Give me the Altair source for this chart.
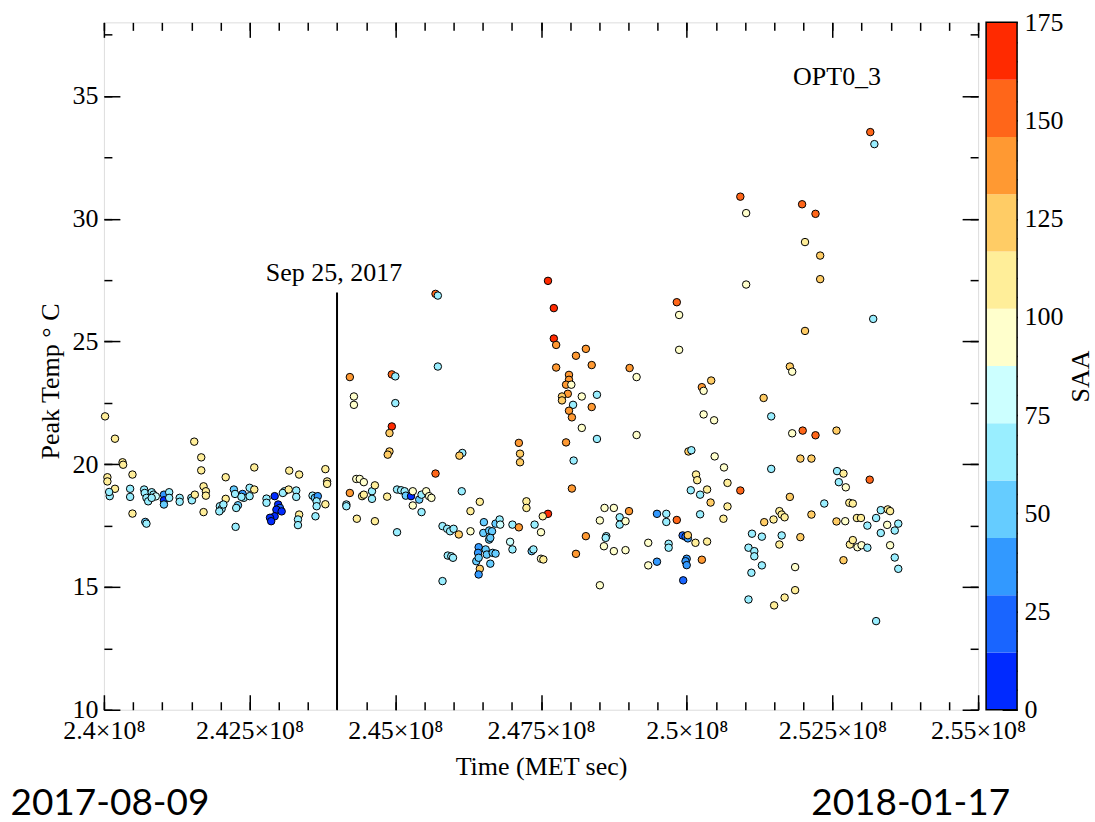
import altair as alt
import pandas as pd

# ---------------------------------------------------------------- data
# Mission elapsed time of each peak (units of 1e6 s)
met_e6 = [
    240.02, 240.19, 240.32, 240.33, 240.06, 240.06, 240.19, 240.10, 240.09, 240.49,
    240.45, 240.45, 240.49, 240.69, 240.70, 240.73, 240.76, 240.82, 240.85, 240.89,
    240.82, 240.71, 240.73, 241.03, 241.03, 241.03, 241.12, 241.12, 241.30, 241.30,
    241.50, 241.51, 241.55, 241.67, 241.67, 241.71, 241.75, 241.75, 241.56, 241.71,
    242.09, 242.09, 241.99, 242.02, 241.98, 242.05, 242.23, 242.25, 242.38, 242.40,
    242.36, 242.30, 242.27, 242.26, 242.50, 242.50, 242.58, 242.58, 242.79, 242.79,
    242.93, 242.99, 243.02, 242.96, 243.05, 242.93, 242.85, 242.87, 243.10, 243.07,
    243.17, 243.18, 243.30, 243.30, 243.35, 243.35, 243.33, 243.33, 243.58, 243.62,
    243.67, 243.65, 243.65, 243.63, 243.80, 243.83, 243.83, 243.80,
    244.22, 244.29, 244.29, 244.94, 245.00, 245.00, 244.94, 244.90, 244.90, 244.87,
    245.69, 245.73, 245.73, 246.15, 246.10, 245.69, 244.33, 244.39, 244.46, 244.22,
    244.16, 244.16, 244.43, 244.46, 244.60, 244.60, 244.65, 244.34, 244.65, 244.86,
    245.03, 245.10, 245.16, 245.18, 245.27, 245.30, 245.30, 245.41, 245.45, 245.53,
    245.58, 245.62, 245.45, 245.03, 246.14, 245.81, 245.89, 245.94, 246.00, 246.09,
    246.29, 246.45, 246.29, 245.90, 245.96, 245.99, 245.81, 246.52, 246.72, 246.79,
    246.80, 246.51, 246.61, 246.66, 246.61, 246.63, 246.43, 246.42, 246.55, 246.57,
    246.67, 246.72, 246.39, 246.43, 246.45, 246.43, 246.63, 247.01, 247.12, 246.97,
    247.01, 247.25, 247.25, 247.34, 247.37, 247.39, 247.50, 247.50, 247.54, 247.12,
    247.14, 247.14, 247.62, 247.72, 247.72, 247.76, 247.76, 248.10, 248.27, 248.37,
    247.98, 247.98, 247.93, 247.96, 247.86, 247.86, 248.02, 248.05, 247.98, 248.03,
    248.20, 248.37, 248.20, 248.46, 248.46, 247.93, 248.06, 248.03, 247.62, 247.53,
    248.27, 248.10, 248.51, 248.59, 248.75, 248.51, 248.85, 248.85, 248.95, 248.62,
    248.61, 248.58, 248.75, 248.95, 249.02, 249.01, 249.14, 249.14,
    252.29, 252.29, 251.02, 249.83, 249.87, 249.87, 253.20, 252.03, 251.77, 251.81,
    250.42, 250.26, 250.29, 251.32, 251.45, 250.29, 250.47, 251.81, 251.99, 252.21,
    252.57, 250.03, 250.08, 250.48, 250.64, 250.16, 250.18, 250.70, 250.07, 250.23,
    250.35, 250.92, 250.41, 250.70, 250.23, 250.63, 251.45, 251.77, 251.59, 251.63,
    251.68, 251.49, 251.33, 252.14, 251.95, 251.63, 251.59, 251.12, 251.29, 251.06,
    251.16, 251.16, 251.29, 251.11, 251.86, 251.06, 251.86, 251.68, 251.50, 249.49,
    249.65, 249.65, 249.83, 249.34, 249.34, 249.49, 249.69, 249.69, 249.93, 249.98,
    250.02, 250.02, 250.00, 249.98, 250.00, 249.94, 250.15, 250.35, 250.26, 252.58,
    252.69, 252.61, 252.73, 252.36, 252.57, 252.72, 252.79, 252.85, 252.92, 252.99,
    253.10, 253.25, 253.33, 253.45, 253.49, 253.44, 253.57, 253.63, 253.33, 252.80,
    252.85, 252.93, 253.00, 253.10, 253.49, 252.69, 253.57, 253.63, 253.25, 253.14,
    251.95, 252.14, 250.92, 251.02, 251.98, 252.21, 252.03, 253.15, 253.22,
]

# Peak temperature (deg C)
peak_temp = [
    21.95, 21.04, 20.08, 19.98, 19.47, 19.30, 19.00, 18.70, 18.87, 19.58,
    19.00, 18.67, 17.99, 18.97, 18.83, 18.63, 18.49, 18.86, 18.76, 18.69,
    18.63, 17.65, 17.58, 18.76, 18.53, 18.36, 18.86, 18.63, 18.63, 18.47,
    18.63, 18.53, 20.92, 20.28, 19.75, 19.10, 18.90, 18.72, 18.76, 18.05,
    19.47, 18.59, 18.29, 18.18, 18.08, 18.36, 18.97, 18.79, 18.79, 18.63,
    18.67, 18.33, 18.22, 17.45, 19.04, 18.70, 19.87, 18.97, 18.60, 18.43,
    18.70, 18.36, 18.22, 18.15, 18.08, 17.88, 17.82, 17.68, 18.90, 18.83,
    18.97, 19.74, 18.93, 18.67, 19.58, 17.95, 17.75, 17.52, 18.72, 18.63,
    18.70, 18.49, 18.29, 17.88, 19.80, 19.30, 19.20, 18.37,
    23.55, 22.76, 22.42, 23.66, 23.58, 22.49, 21.54, 21.27, 20.52, 20.39,
    26.94, 26.87, 23.98, 20.46, 20.35, 19.62, 19.40, 19.40, 19.27, 18.83,
    18.36, 18.29, 18.70, 18.76, 18.90, 18.59, 19.14, 17.78, 17.68, 18.68,
    18.97, 18.94, 18.90, 18.72, 18.70, 18.90, 18.32, 18.56, 18.76, 18.90,
    18.70, 18.63, 18.05, 17.23, 18.90, 17.48, 17.37, 17.27, 17.37, 17.14,
    18.09, 18.47, 17.27, 16.28, 16.25, 16.19, 15.24, 17.64, 17.58, 17.75,
    17.54, 17.20, 17.30, 17.27, 16.93, 17.00, 16.62, 16.39, 16.53, 16.32,
    16.39, 16.36, 16.05, 16.19, 15.74, 15.51, 15.95, 17.54, 17.43, 16.84,
    16.53, 18.49, 18.22, 16.46, 16.53, 17.54, 17.23, 16.15, 16.12, 20.87,
    20.43, 20.08, 27.47, 26.36, 25.12, 24.86, 23.94, 24.42, 24.70, 24.04,
    23.64, 23.44, 23.24, 22.87, 22.76, 22.60, 23.24, 22.42, 22.18, 21.91,
    22.76, 22.33, 21.48, 22.83, 21.03, 20.89, 20.15, 19.01, 17.98, 17.88,
    17.07, 16.35, 15.07, 18.22, 18.22, 17.71, 17.84, 17.54, 17.68, 17.07,
    17.00, 16.66, 16.46, 16.50, 23.92, 18.09, 23.55, 21.19,
    28.50, 27.54, 27.32, 26.60, 26.08, 24.66, 25.92, 25.43, 23.98, 23.77,
    23.41, 23.14, 22.99, 22.70, 21.95, 22.03, 21.79, 21.26, 21.37, 21.18,
    21.37, 20.52, 20.57, 20.32, 19.87, 19.58, 19.35, 19.24, 18.94, 18.76,
    18.97, 18.93, 18.44, 18.28, 17.96, 17.78, 19.81, 18.67, 18.09, 17.95,
    17.84, 17.75, 17.64, 17.95, 17.03, 17.10, 16.73, 17.17, 17.05, 16.60,
    16.46, 16.25, 15.88, 15.58, 15.81, 14.49, 14.87, 14.57, 14.25, 17.98,
    17.98, 17.65, 17.73, 16.80, 15.88, 16.03, 16.76, 16.60, 17.10, 17.05,
    16.98, 17.11, 16.15, 16.05, 15.89, 15.27, 16.80, 16.85, 16.11, 19.72,
    19.62, 19.27, 19.06, 18.40, 17.67, 17.68, 18.43, 18.40, 17.81, 17.81,
    17.50, 17.81, 18.13, 18.16, 18.09, 17.53, 17.30, 17.58, 17.20, 16.73,
    16.91, 16.62, 16.70, 16.60, 16.70, 16.09, 16.20, 15.74, 13.61, 19.37,
    20.23, 20.23, 30.90, 30.23, 30.59, 30.20, 29.05, 33.53, 33.04,
]

# SAA value at each peak
saa = [
    109, 109, 109, 109, 109, 109, 109, 66, 66, 109,
    66, 66, 109, 66, 66, 66, 66, 66, 66, 80,
    66, 51, 66, 36, 7, 51, 66, 66, 66, 66,
    66, 66, 109, 109, 109, 109, 109, 109, 109, 109,
    109, 109, 66, 66, 66, 66, 51, 66, 36, 66,
    66, 51, 66, 66, 66, 66, 109, 109, 66, 66,
    7, 7, 22, 7, 7, 7, 7, 7, 66, 66,
    109, 109, 66, 66, 109, 109, 66, 66, 66, 51,
    36, 66, 66, 66, 109, 109, 109, 109,
    138, 95, 95, 153, 66, 66, 168, 124, 124, 124,
    153, 66, 66, 66, 124, 153, 95, 95, 95, 138,
    66, 66, 109, 109, 66, 66, 109, 109, 109, 109,
    66, 66, 66, 51, 7, 95, 95, 51, 66, 95,
    95, 95, 66, 66, 66, 66, 66, 66, 66, 124,
    109, 109, 95, 66, 66, 66, 66, 51, 51, 66,
    80, 51, 51, 51, 51, 51, 36, 36, 51, 51,
    51, 51, 51, 51, 124, 36, 51, 66, 138, 80,
    66, 109, 109, 51, 66, 66, 95, 95, 109, 138,
    124, 124, 168, 168, 168, 138, 138, 138, 138, 138,
    138, 138, 138, 138, 124, 124, 95, 66, 138, 138,
    95, 138, 95, 66, 66, 138, 66, 138, 168, 109,
    138, 138, 95, 95, 95, 95, 66, 66, 95, 66,
    66, 95, 95, 95, 138, 138, 95, 95,
    124, 124, 95, 153, 95, 95, 66, 124, 124, 95,
    124, 138, 95, 124, 66, 95, 95, 95, 153, 153,
    124, 124, 66, 95, 95, 109, 109, 109, 66, 66,
    109, 153, 124, 109, 66, 109, 66, 124, 109, 109,
    109, 109, 124, 124, 124, 66, 109, 66, 66, 66,
    66, 66, 66, 66, 95, 66, 109, 109, 109, 36,
    66, 66, 153, 95, 95, 36, 66, 66, 22, 22,
    36, 124, 36, 36, 36, 22, 109, 109, 138, 66,
    109, 66, 95, 66, 124, 95, 109, 109, 109, 109,
    66, 66, 66, 109, 109, 95, 66, 66, 66, 109,
    109, 95, 95, 66, 95, 124, 66, 66, 66, 153,
    124, 124, 153, 95, 153, 153, 109, 153, 66,
]

# 12-step blue-to-orange palette for the SAA scale
palette = [
    "#002AFF", "#1965FF", "#3299FF", "#65CCFF", "#99EEFF", "#CCFFFF",
    "#FFFFCC", "#FFEE99", "#FFCC65", "#FF9932", "#FF6619", "#FF2A00",
]
saa_range = [0, 175]

# Annotations
event_met = [244.0e6]
event_temp = [10, 27]
event_label = "Sep 25, 2017"
channel_label = "OPT0_3"
channel_pos = [252.58e6, 35.44]
date_labels = ["2017-08-09", "2018-01-17"]

# Axis tick values
x_major = [240e6 + 2.5e6 * i for i in range(7)]
x_minor = [240e6 + 0.5e6 * i for i in range(31)]
y_major = [10, 15, 20, 25, 30, 35]
y_minor = [10 + 2.5 * i for i in range(12)]
saa_major = [25 * i for i in range(8)]
saa_minor = [5 * i for i in range(36)]

# ---------------------------------------------------------------- style
SERIF = "Liberation Serif"
FS = 26
W, H = 875, 688
GAP, CBW = 8, 31          # colour bar offset from the frame, and its width
CB_RIGHT = GAP + CBW      # colour bar right edge, measured from the frame
MAJ, MIN = 15, 8

df = pd.DataFrame({
    "met": [v * 1e6 for v in met_e6],
    "temp": peak_temp,
    "saa": saa,
})

xs = alt.Scale(domain=[240e6, 255e6], nice=False, zero=False)
ys = alt.Scale(domain=[10, 38], nice=False, zero=False)
bs = alt.Scale(domain=saa_range, nice=False, zero=False)
cs = alt.Scale(type="quantize", domain=saa_range, range=palette, nice=False)


def tick_axis(orient, offset, values, size):
    return alt.Axis(orient=orient, offset=offset, values=values, tickSize=size,
                    tickColor="black", tickWidth=1.5, labels=False, domain=False,
                    grid=False, title=None)


points = alt.Chart(df).mark_circle(size=56, opacity=1, stroke="black",
                                   strokeWidth=1).encode(
    x=alt.X("met:Q", scale=xs, axis=alt.Axis(
        orient="bottom", values=x_major, ticks=False, domain=False, grid=False,
        labelExpr="format(datum.value / 1e8, '.3~f') + '×10⁸'",
        labelFont=SERIF, labelFontSize=FS, labelColor="black", labelPadding=8,
        labelOverlap=False, labelFlush=False,
        title="Time (MET sec)", titleFont=SERIF, titleFontSize=FS,
        titleFontWeight="normal", titleColor="black",
        titleBaseline="alphabetic", titleY=65)),
    y=alt.Y("temp:Q", scale=ys, axis=alt.Axis(
        orient="left", values=y_major, ticks=False, domain=False, grid=False,
        labelFont=SERIF, labelFontSize=FS, labelColor="black", labelPadding=6,
        labelOverlap=False, labelFlush=False,
        title="Peak Temp ° C", titleFont=SERIF, titleFontSize=FS,
        titleFontWeight="normal", titleColor="black", titleAngle=270,
        titleBaseline="alphabetic", titleAlign="center", titleX=-45, titleY=359)),
    color=alt.Color("saa:Q", scale=cs, legend=None),
)


def ghost(xaxis, yaxis):
    return alt.Chart(df).mark_point(opacity=0).encode(
        x=alt.X("met:Q", scale=xs, axis=xaxis),
        y=alt.Y("temp:Q", scale=ys, axis=yaxis),
    )


# inward-pointing ticks on all four sides of the frame
ticks_bottom_major = ghost(tick_axis("top", -H, x_major, MAJ),
                           tick_axis("right", -W, y_major, MAJ + 1))
ticks_bottom_minor = ghost(tick_axis("top", -H, x_minor, MIN),
                           tick_axis("right", -W, y_minor, MIN))
ticks_top_major = ghost(tick_axis("bottom", -H, x_major, MAJ),
                        tick_axis("left", -W, y_major, MAJ + 1))
ticks_top_minor = ghost(tick_axis("bottom", -H, x_minor, MIN),
                        tick_axis("left", -W, y_minor, MIN))

event_df = pd.DataFrame({"met": event_met, "lo": [event_temp[0]],
                         "hi": [event_temp[1]], "label": [event_label]})
event_rule = alt.Chart(event_df).mark_rule(color="black", strokeWidth=2).encode(
    x=alt.X("met:Q", scale=xs, axis=None),
    y=alt.Y("lo:Q", scale=ys, axis=None),
    y2="hi:Q",
)
event_text = alt.Chart(event_df).mark_text(
    font=SERIF, fontSize=FS, color="black", align="center",
    baseline="alphabetic", dy=-11, dx=-3).encode(
    x=alt.X("met:Q", scale=xs, axis=None),
    y=alt.Y("hi:Q", scale=ys, axis=None),
    text="label:N",
)

channel_df = pd.DataFrame({"met": [channel_pos[0]], "temp": [channel_pos[1]],
                           "label": [channel_label]})
channel_text = alt.Chart(channel_df).mark_text(
    font=SERIF, fontSize=FS, color="black", align="center",
    baseline="alphabetic").encode(
    x=alt.X("met:Q", scale=xs, axis=None),
    y=alt.Y("temp:Q", scale=ys, axis=None),
    text="label:N",
)


def date_text(label, xpos):
    return alt.Chart(pd.DataFrame({"label": [label]})).mark_text(
        font="Lato", fontSize=37, color="black", align="left",
        baseline="alphabetic").encode(
        x=alt.value(xpos), y=alt.value(H + 105), text="label:N")


# ---------------------------------------------------------------- colour bar
n_bands = len(palette)
step = (saa_range[1] - saa_range[0]) / n_bands
bands = pd.DataFrame({
    "lo": [saa_range[0] + i * step for i in range(n_bands)],
    "hi": [saa_range[0] + (i + 1) * step for i in range(n_bands)],
    "mid": [saa_range[0] + (i + 0.5) * step for i in range(n_bands)],
})
bar_frame_df = pd.DataFrame({"lo": [saa_range[0]], "hi": [saa_range[1]]})

bar = alt.Chart(bands).mark_rect().encode(
    x=alt.value(W + GAP), x2=alt.value(W + CB_RIGHT),
    y=alt.Y("lo:Q", scale=bs, axis=alt.Axis(
        orient="right", offset=CB_RIGHT, values=saa_major, ticks=False,
        domain=False, grid=False,
        labelFont=SERIF, labelFontSize=FS, labelColor="black", labelPadding=7,
        labelOverlap=False, labelFlush=False,
        title="SAA", titleFont=SERIF, titleFontSize=FS, titleFontWeight="normal",
        titleColor="black", titleAngle=270, titleAlign="center",
        titleBaseline="alphabetic", titleX=71, titleY=354)),
    y2="hi:Q",
    color=alt.Color("mid:Q", scale=cs, legend=None),
)
bar_frame = alt.Chart(bar_frame_df).mark_rect(
    fillOpacity=0, stroke="black", strokeWidth=1.5).encode(
    x=alt.value(W + GAP), x2=alt.value(W + CB_RIGHT),
    y=alt.Y("lo:Q", scale=bs, axis=None), y2="hi:Q",
)
bar_major = alt.Chart(bands).mark_point(opacity=0).encode(
    x=alt.value(W + GAP),
    y=alt.Y("lo:Q", scale=bs,
            axis=tick_axis("left", -(W + CB_RIGHT), saa_major, MAJ)))
bar_minor = alt.Chart(bands).mark_point(opacity=0).encode(
    x=alt.value(W + GAP),
    y=alt.Y("lo:Q", scale=bs,
            axis=tick_axis("left", -(W + CB_RIGHT), saa_minor, 7)))

chart = alt.layer(
    ticks_bottom_minor, ticks_bottom_major, ticks_top_minor, ticks_top_major,
    points, event_rule, event_text, channel_text,
    date_text(date_labels[0], -93.5), date_text(date_labels[1], 708),
    bar, bar_minor, bar_major, bar_frame,
).resolve_axis(x="independent", y="independent").resolve_scale(
    y="independent"
).properties(
    width=W, height=H,
    padding={"left": 10, "top": 9, "right": 2, "bottom": 2},
).configure_view(stroke="black", strokeWidth=2).configure(font=SERIF)

chart.save("out.html", embed_options={"renderer": "svg", "actions": False})
